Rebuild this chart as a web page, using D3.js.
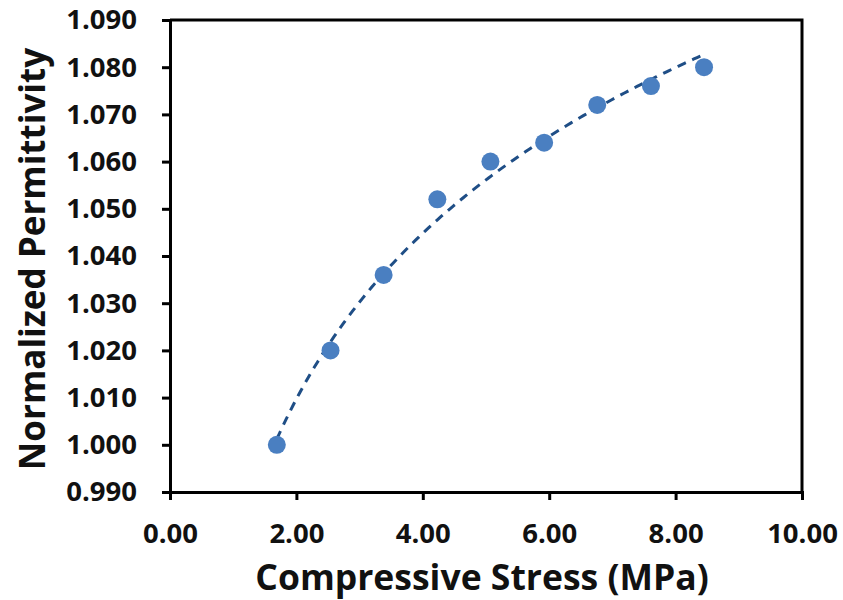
<!DOCTYPE html>
<html>
<head>
<meta charset="utf-8">
<script src="https://cdn.jsdelivr.net/npm/d3@7"></script>
<style>
  body { margin: 0; background: #fff; }
  text { font-family: "Open Sans", "Liberation Sans", sans-serif; font-weight: 700; fill: #111; }
</style>
</head>
<body>
<div id="chart"></div>
<script>
// Data
var stress = [1.69, 2.54, 3.38, 4.23, 5.07, 5.92, 6.76, 7.61, 8.45];
var permittivity = [1.000, 1.020, 1.036, 1.052, 1.060, 1.064, 1.072, 1.076, 1.080];
var xTicks = [0, 2, 4, 6, 8, 10];
var yTicks = [0.99, 1.00, 1.01, 1.02, 1.03, 1.04, 1.05, 1.06, 1.07, 1.08, 1.09];

var width = 843, height = 600;
var margin = { top: 20, right: 41, bottom: 108, left: 170 };
var innerW = width - margin.left - margin.right;
var innerH = height - margin.top - margin.bottom;

var svg = d3.select("#chart").append("svg")
    .attr("width", width)
    .attr("height", height);

var g = svg.append("g")
    .attr("transform", `translate(${margin.left},${margin.top})`);

var x = d3.scaleLinear().domain([0, 10]).range([0, innerW]);
var y = d3.scaleLinear().domain([0.99, 1.09]).range([innerH, 0]);

// Frame (top and right)
g.append("path")
    .attr("d", `M0,0H${innerW}V${innerH}`)
    .attr("fill", "none")
    .attr("stroke", "#000")
    .attr("stroke-width", 3);

// Axes
var xAxis = g.append("g")
    .attr("transform", `translate(0,${innerH})`)
    .call(d3.axisBottom(x).tickValues(xTicks).tickFormat(d3.format(".2f")).tickSize(8).tickPadding(23));

var yAxis = g.append("g")
    .call(d3.axisLeft(y).tickValues(yTicks).tickFormat(d3.format(".3f")).tickSize(8).tickPadding(25));

[xAxis, yAxis].forEach(function(ax) {
    ax.select(".domain").attr("stroke", "#000").attr("stroke-width", 3);
    ax.selectAll(".tick line").attr("stroke", "#000").attr("stroke-width", 3);
    ax.selectAll(".tick text").style("font-size", "27.5px").attr("fill", "#111");
});

// Logarithmic trendline fitted to the points (least squares on ln x)
var lx = stress.map(Math.log);
var mx = d3.mean(lx), my = d3.mean(permittivity);
var sxy = d3.sum(lx, (v, i) => (v - mx) * (permittivity[i] - my));
var sxx = d3.sum(lx, v => (v - mx) * (v - mx));
var a = sxy / sxx, b = my - a * mx;
var xs = d3.range(stress[0], stress[stress.length - 1] + 0.001, 0.05);

g.append("path")
    .datum(xs)
    .attr("fill", "none")
    .attr("stroke", "#1f4e86")
    .attr("stroke-width", 3)
    .attr("stroke-dasharray", "9,7")
    .attr("d", d3.line().x(d => x(d)).y(d => y(a * Math.log(d) + b)));

// Points
g.selectAll(".dot")
    .data(stress)
    .enter().append("circle")
    .attr("class", "dot")
    .attr("cx", d => x(d))
    .attr("cy", (d, i) => y(permittivity[i]))
    .attr("r", 9)
    .attr("fill", "#4a7fc1");

// Axis titles
svg.append("text")
    .attr("x", 482)
    .attr("y", 590)
    .attr("text-anchor", "middle")
    .style("font-size", "35.5px")
    .text("Compressive Stress (MPa)");

svg.append("text")
    .attr("transform", `translate(45,259) rotate(-90)`)
    .attr("text-anchor", "middle")
    .style("font-size", "35px")
    .text("Normalized Permittivity");
</script>
</body>
</html>
